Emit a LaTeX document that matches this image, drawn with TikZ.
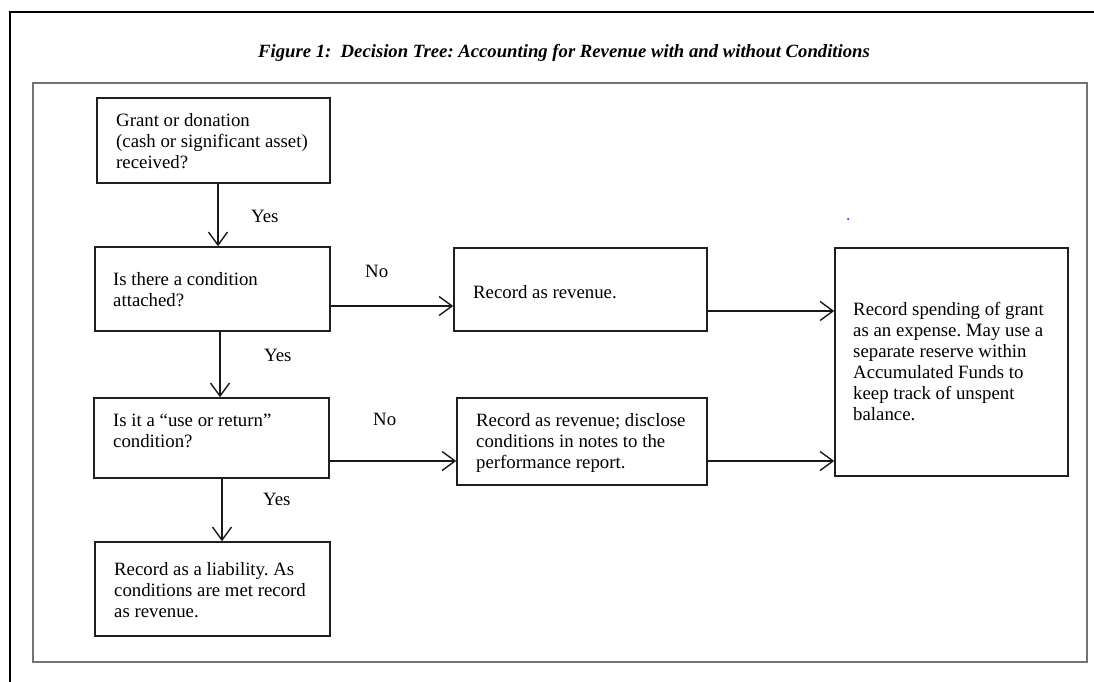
\documentclass[tikz,border=0pt]{standalone}
\usepackage{fontspec}
\setmainfont{Liberation Serif}
\usetikzlibrary{arrows.meta}
\frenchspacing
\tikzset{
  box/.style={draw=black!88, line width=1.5pt, rectangle, inner sep=0pt},
  txt/.style={anchor=base west, inner sep=0pt, align=left, font=\fontsize{18.8pt}{21pt}\selectfont},
  lbl/.style={anchor=base west, inner sep=0pt, font=\fontsize{18.8pt}{21pt}\selectfont},
  arr/.style={line width=1.3pt, draw=black!90, -{Straight Barb[length=13pt,width=19pt,line width=1.4pt]}}
}
\newcommand{\mkbox}[5]{\node[box, minimum width=#4-#2, minimum height=#5-#3] (#1) at ({(#2+#4)/2},{(#3+#5)/2}) {};}
\begin{document}
\begin{tikzpicture}[x=1pt,y=-1pt]
\useasboundingbox (0,0) rectangle (1094,682);
% outer frame
\draw[line width=2pt, black] (10,682) -- (10,12) -- (1094,12);
% inner frame
\draw[line width=1.6pt, black!55] (33,83) rectangle (1087,662);
% title
\node[anchor=base, inner sep=0pt, font=\fontsize{18.7pt}{21pt}\selectfont\bfseries\itshape] (title) at (564,58) {Figure 1:\ \ Decision Tree: Accounting for Revenue with and without Conditions};
% boxes
\mkbox{b1}{97}{98}{330}{183}
\mkbox{b2}{95}{247}{330}{331}
\mkbox{b3}{454}{248}{707}{331}
\mkbox{b4}{457}{398}{707}{485}
\mkbox{b5}{94}{398}{329}{478}
\mkbox{b6}{95}{542}{330}{636}
\mkbox{b7}{835}{248}{1068}{476}
% texts (anchor = baseline of last line)
\node[txt] (t1) at (116,168) {Grant or donation\\(cash or significant asset)\\received?};
\node[txt] (t2) at (113,306) {Is there a condition\\attached?};
\node[txt] (t3) at (473,298) {Record as revenue.};
\node[txt] (t4) at (476,468) {Record as revenue; disclose\\conditions in notes to the\\performance report.};
\node[txt] (t5) at (113,447) {Is it a “use or return”\\condition?};
\node[txt] (t6) at (114,617) {Record as a liability. As\\conditions are met record\\as revenue.};
\node[txt] (t7) at (853,420) {Record spending of grant\\as an expense. May use a\\separate reserve within\\Accumulated Funds to\\keep track of unspent\\balance.};
% labels
\node[lbl] (y1) at (251,222) {Yes};
\node[lbl] (y2) at (264,361) {Yes};
\node[lbl] (y3) at (263,505) {Yes};
\node[lbl] (n1) at (365,277) {No};
\node[lbl] (n2) at (373,425) {No};
% helper coordinates
\coordinate (c1) at (218,0);
\coordinate (c2) at (220,0);
\coordinate (c3) at (222,0);
\coordinate (r1) at (0,306);
\coordinate (r2) at (0,461);
\coordinate (r3) at (0,311);
% connectors
\draw[arr] (b1.south -| c1) -- (b2.north -| c1);
\draw[arr] (b2.south -| c2) -- (b5.north -| c2);
\draw[arr] (b5.south -| c3) -- (b6.north -| c3);
\draw[arr] (b2.east |- r1) -- (b3.west |- r1);
\draw[arr] (b5.east |- r2) -- (b4.west |- r2);
\draw[arr] (b3.east |- r3) -- (b7.west |- r3);
\draw[arr] (b4.east |- r2) -- (b7.west |- r2);
% stray blue dot
\fill[blue] (848,219) circle (1pt);
\end{tikzpicture}
\end{document}
